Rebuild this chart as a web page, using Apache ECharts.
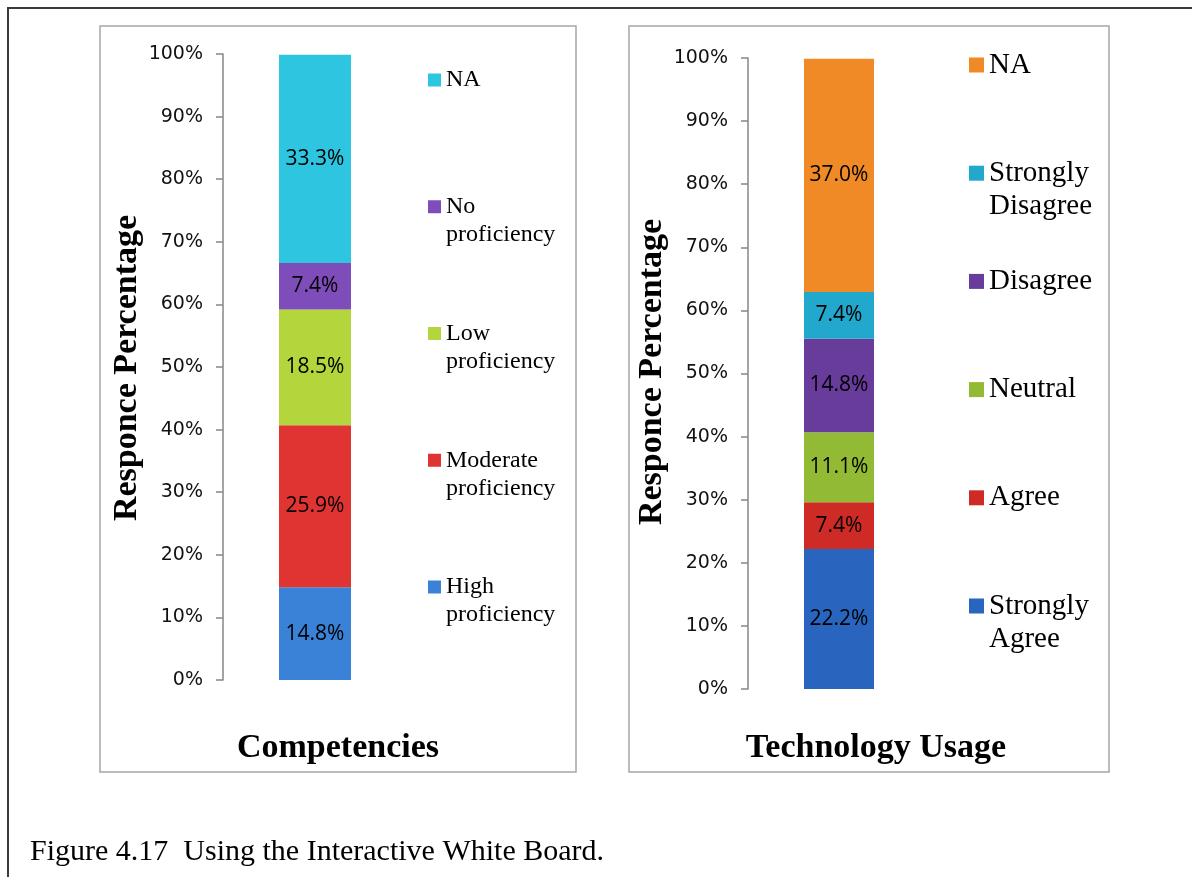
<!DOCTYPE html>
<html>
<head>
<meta charset="utf-8">
<script src="https://cdn.jsdelivr.net/npm/echarts@6/dist/echarts.min.js"></script>
<style>
  html, body { margin: 0; padding: 0; background: #fff; }
  #chart { width: 1192px; height: 877px; }
</style>
</head>
<body>
<div id="chart"></div>
<script>
// data
const categories = ['Competencies', 'Technology Usage']
const compNames = ['High proficiency', 'Moderate proficiency', 'Low proficiency', 'No proficiency', 'NA']
const compValues = [14.8, 25.9, 18.5, 7.4, 33.3]
const compColors = ['#3a82d8', '#e03432', '#b2d63c', '#7f4dba', '#2dc5e0']
const techNames = ['Strongly Agree', 'Agree', 'Neutral', 'Disagree', 'Strongly Disagree', 'NA']
const techValues = [22.2, 7.4, 11.1, 14.8, 7.4, 37.0]
const techColors = ['#2965bf', '#ce2b27', '#93ba34', '#673c9b', '#22a8cc', '#ef8a26']
const yAxisTitle = 'Responce Percentage'
const caption = 'Figure 4.17  Using the Interactive White Board.'

const SERIF = '"Liberation Serif", "Times New Roman", serif'
const TICK_FONT = '"DejaVu Sans", sans-serif'
const LABEL_FONT = '"Open Sans", sans-serif'

const chart = echarts.init(document.getElementById('chart'), null, { renderer: 'canvas' })

const shortName = (n) => n.replace(/^(Comp|Tech) /, '')

// two-word legend labels wrap; a leading blank line keeps the icon level with the first line
const wrapName = (n) => {
    const shown = shortName(n)
    const i = shown.indexOf(' ')
    return i > 0 ? '\n' + shown.slice(0, i) + '\n' + shown.slice(i + 1) : shown
}

const makeSeries = (names, values, colors, idx, prefix, barWidth) =>
    names.map((n, i) => ({
        name: prefix + n,
        type: 'bar',
        stack: 'stack' + idx,
        xAxisIndex: idx,
        yAxisIndex: idx,
        barWidth: barWidth,
        itemStyle: { color: colors[i] },
        label: {
            show: true,
            position: 'inside',
            formatter: p => p.value.toFixed(1) + '%',
            fontFamily: LABEL_FONT,
            fontSize: 21,
            color: '#000'
        },
        data: [values[i]]
    }))

// one legend block per entry, stacked top to bottom in reverse series order
const makeLegends = (names, prefix, left, firstCenter, step, fontSize, lineH, iconSize) =>
    names.slice().reverse().map((n, i) => {
        const full = prefix + n
        const twoLines = shortName(full).indexOf(' ') > 0
        const c = firstCenter + step * i
        return {
            data: [{ name: full, icon: 'rect' }],
            left: left,
            top: c - (twoLines ? 1.5 : 0.5) * lineH,
            padding: 0,
            selectedMode: false,
            itemWidth: iconSize,
            itemHeight: iconSize,
            formatter: wrapName,
            textStyle: {
                fontFamily: SERIF,
                fontSize: fontSize,
                lineHeight: lineH,
                color: '#000'
            }
        }
    })

const yAxisBase = (gridIndex) => ({
    type: 'value',
    gridIndex: gridIndex,
    min: 0,
    max: 100,
    interval: 10,
    splitLine: { show: false },
    axisLine: { show: true, lineStyle: { color: '#868686', width: 1.5 } },
    axisTick: { show: true, length: 7, lineStyle: { color: '#868686', width: 1.5 } },
    axisLabel: { formatter: '{value}%', margin: 20, fontFamily: TICK_FONT, fontSize: 19, color: '#111' }
})

const xAxisBase = (gridIndex, cat) => ({
    type: 'category',
    gridIndex: gridIndex,
    data: [cat],
    axisLine: { show: false },
    axisTick: { show: false },
    axisLabel: { show: false }
})

const option = {
    animation: false,
    backgroundColor: '#fff',
    grid: [
        { left: 223, top: 54, width: 184, height: 626 },
        { left: 748, top: 58, width: 182, height: 631 }
    ],
    xAxis: [xAxisBase(0, categories[0]), xAxisBase(1, categories[1])],
    yAxis: [yAxisBase(0), yAxisBase(1)],
    legend: [
        ...makeLegends(compNames, 'Comp ', 428, 80, 126.75, 24, 28, 13),
        ...makeLegends(techNames, 'Tech ', 969, 65, 108.2, 29, 33, 15)
    ],
    series: [
        ...makeSeries(compNames, compValues, compColors, 0, 'Comp ', 72),
        ...makeSeries(techNames, techValues, techColors, 1, 'Tech ', 70)
    ],
    graphic: [
        // outer figure frame (top and left edges only)
        { type: 'polyline', shape: { points: [[8, 877], [8, 8], [1192, 8]] }, style: { stroke: '#3a3a3a', lineWidth: 2, fill: null } },
        { type: 'rect', shape: { x: 100, y: 26, width: 476, height: 746 }, style: { stroke: '#a6a6a6', lineWidth: 1.5, fill: null } },
        { type: 'rect', shape: { x: 629, y: 26, width: 480, height: 746 }, style: { stroke: '#a6a6a6', lineWidth: 1.5, fill: null } },
        { type: 'text', x: 127, y: 368, rotation: Math.PI / 2, style: { text: yAxisTitle, font: 'bold 34px ' + SERIF, fill: '#000', align: 'center', verticalAlign: 'middle' } },
        { type: 'text', x: 652, y: 372, rotation: Math.PI / 2, style: { text: yAxisTitle, font: 'bold 34px ' + SERIF, fill: '#000', align: 'center', verticalAlign: 'middle' } },
        { type: 'text', x: 338, y: 748, style: { text: categories[0], font: 'bold 34px ' + SERIF, fill: '#000', align: 'center', verticalAlign: 'middle' } },
        { type: 'text', x: 876, y: 748, style: { text: categories[1], font: 'bold 34px ' + SERIF, fill: '#000', align: 'center', verticalAlign: 'middle' } },
        { type: 'text', x: 30, y: 852, style: { text: caption, font: '30px ' + SERIF, fill: '#000', align: 'left', verticalAlign: 'middle' } }
    ]
}

chart.setOption(option)
</script>
</body>
</html>
